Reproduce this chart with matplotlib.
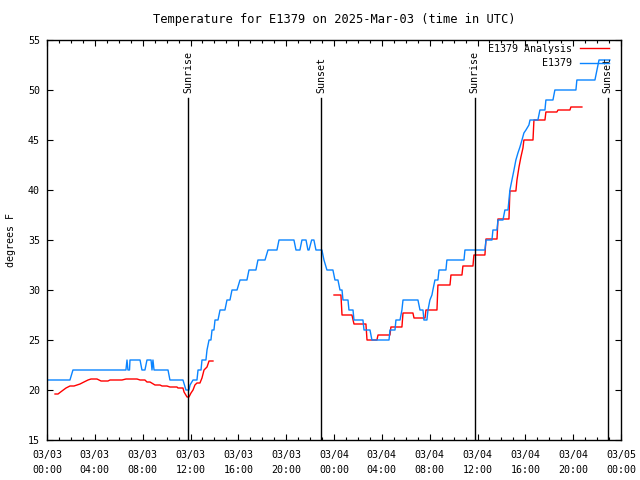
import datetime as dt
import matplotlib
matplotlib.use('Agg')
import matplotlib.pyplot as plt
import matplotlib.dates as mdates
import numpy as np

# Hours since 2025-03-03 00:00 UTC
station_hours = [
    0.0, 1.92, 2.17, 6.6, 6.69, 6.77, 6.9, 6.94, 7.78, 7.94, 8.19, 8.36, 8.7,
    8.78, 8.86, 8.95, 10.12, 10.28, 11.37, 11.62, 11.87, 11.96, 12.21, 12.54,
    12.63, 12.88, 12.96, 13.29, 13.38, 13.55, 13.71, 13.8, 13.96, 14.05, 14.3,
    14.47, 14.88, 15.05, 15.3, 15.47, 15.89, 16.14, 16.72, 16.89, 17.47, 17.64,
    18.23, 18.48, 19.23, 19.4, 20.65, 20.82, 21.15, 21.32, 21.66, 21.82, 21.91,
    22.13, 22.32, 22.49, 22.9, 22.99, 23.16, 23.41, 23.91, 24.08, 24.33, 24.5,
    24.67, 24.75, 25.17, 25.25, 25.59, 25.67, 26.42, 26.51, 27.01, 27.17, 28.6,
    28.68, 29.1, 29.18, 29.52, 29.68, 29.77, 31.02, 31.19, 31.44, 31.52, 31.77,
    31.86, 32.02, 32.19, 32.27, 32.44, 32.69, 32.78, 33.36, 33.44, 34.87, 34.95,
    36.62, 36.71, 37.21, 37.29, 37.63, 37.71, 38.13, 38.29, 38.55, 38.63, 38.71,
    38.88, 39.05, 39.21, 39.38, 39.55, 39.72, 39.88, 40.05, 40.3, 40.39, 41.05,
    41.22, 41.64, 41.72, 42.31, 42.47, 44.23, 44.31, 45.82, 45.99, 46.16, 47.07,
]
station_temp = [
    21, 21, 22, 22, 23, 22, 22, 23, 23, 22, 22, 23, 23,
    22, 23, 22, 22, 21, 21, 20, 20, 20.5, 21, 21,
    22, 22, 23, 23, 24, 25, 25, 26, 26, 27, 27,
    28, 28, 29, 29, 30, 30, 31, 31, 32, 32, 33,
    33, 34, 34, 35, 35, 34, 34, 35, 35, 34, 34,
    35, 35, 34, 34, 34, 33, 32, 32, 31, 31, 30,
    30, 29, 29, 28, 28, 27, 27, 26, 26, 25, 25,
    26, 26, 27, 27, 28, 29, 29, 28, 28, 27, 27,
    28, 29, 29.5, 30, 31, 31, 32, 32, 33, 33, 34,
    34, 35, 35, 36, 36, 37, 37, 38, 38, 39, 40,
    41, 42, 43, 43.7, 44.3, 45, 45.7, 46, 46.5, 47, 47,
    48, 48, 49, 49, 50, 50, 51, 51, 52, 53, 53,
]

analysis_hours = [
    0.67, 0.92, 1.25, 1.59, 1.92, 2.26, 2.51, 2.76, 3.09, 3.43, 3.68, 4.18,
    4.52, 5.1, 5.27, 6.27, 6.61, 7.53, 7.78, 8.19, 8.36, 8.61, 9.03, 9.45,
    9.62, 10.03, 10.28, 10.87, 10.95, 11.37, 11.46, 11.71, 11.87, 12.04, 12.21,
    12.37, 12.54, 12.79, 12.96, 13.13, 13.38, 13.55, 13.88,
    18.0,
    24.0, 24.58, 24.67, 25.5, 25.67, 26.67, 26.76, 27.59, 27.68, 28.68, 28.76,
    29.68, 29.77, 30.6, 30.69, 31.61, 31.69, 32.61, 32.69, 33.7, 33.78, 34.7,
    34.78, 35.62, 35.7, 36.62, 36.71, 37.63, 37.71, 38.63, 38.71, 39.21, 39.3,
    39.47, 39.63, 39.8, 39.88, 40.64, 40.72, 41.64, 41.72, 42.64, 42.73, 43.73,
    43.81, 44.73,
]
analysis_temp = [
    19.6, 19.6, 19.9, 20.2, 20.4, 20.4, 20.5, 20.6, 20.8, 21.0, 21.1, 21.1,
    20.9, 20.9, 21.0, 21.0, 21.1, 21.1, 21.0, 21.0, 20.8, 20.8, 20.5, 20.5,
    20.4, 20.4, 20.3, 20.3, 20.2, 20.2, 19.8, 19.3, 19.3, 19.7, 20.0,
    20.5, 20.7, 20.7, 21.2, 22.0, 22.3, 22.9, 22.9,
    np.nan,
    29.5, 29.5, 27.5, 27.5, 26.6, 26.6, 25.0, 25.0, 25.5, 25.5, 26.3,
    26.3, 27.7, 27.7, 27.2, 27.2, 28.0, 28.0, 30.5, 30.5, 31.5, 31.5,
    32.4, 32.4, 33.5, 33.5, 35.1, 35.1, 37.1, 37.1, 39.9, 39.9, 41.0,
    42.3, 43.3, 44.2, 45.0, 45.0, 47.0, 47.0, 47.8, 47.8, 48.0, 48.0,
    48.3, 48.3,
]

sun_hours = [11.79, 22.93, 35.76, 46.9]
sun_labels = ['Sunrise', 'Sunset', 'Sunrise', 'Sunset']

START = dt.datetime(2025, 3, 3, 0, 0)
FONT = 'DejaVu Sans Mono'


def to_dates(hours):
    return [START + dt.timedelta(hours=h) for h in hours]


def main():
    plt.rcParams['font.family'] = FONT
    plt.rcParams['font.size'] = 7.2

    fig = plt.figure(figsize=(6.4, 4.8), dpi=100)
    ax = fig.add_axes([47 / 640, 40 / 480, 574 / 640, 400 / 480])

    ax.plot(to_dates(analysis_hours), analysis_temp, color='#ff0000',
            lw=1.0, label='E1379 Analysis')
    ax.plot(to_dates(station_hours), station_temp, color='#0a84ff',
            lw=1.0, label='E1379')

    # sunrise / sunset markers
    for h, lab in zip(sun_hours, sun_labels):
        t = START + dt.timedelta(hours=h)
        ax.plot([t, t], [15, 49.2], color='black', lw=1.0)
        ax.text(t, 49.7, lab, rotation=90, ha='center', va='bottom')

    ax.set_xlim(START, START + dt.timedelta(hours=48))
    ax.set_ylim(15, 55)
    ax.set_yticks(np.arange(15, 56, 5))

    ax.xaxis.set_major_locator(mdates.HourLocator(byhour=[0, 4, 8, 12, 16, 20]))
    ax.xaxis.set_minor_locator(mdates.HourLocator())
    ax.xaxis.set_major_formatter(mdates.DateFormatter('%m/%d\n%H:%M'))
    for lbl in ax.get_xticklabels():
        lbl.set_linespacing(1.6)

    ax.tick_params(which='both', direction='in', top=True, right=True,
                   labelsize=7.2, colors='black')
    ax.tick_params(which='major', length=4, width=0.8)
    ax.tick_params(which='minor', length=2.5, width=0.8)
    ax.tick_params(axis='x', pad=7)
    ax.tick_params(axis='y', pad=5)
    for s in ax.spines.values():
        s.set_linewidth(1.0)

    ax.set_title('Temperature for E1379 on 2025-Mar-03 (time in UTC)', pad=12)
    ax.set_ylabel('degrees F')
    ax.yaxis.set_label_coords(-31 / 574, 0.5)

    ax.legend(loc='upper right', frameon=False, markerfirst=False,
              handlelength=2.9, handletextpad=0.8, labelspacing=0.45,
              borderaxespad=0.3, bbox_to_anchor=(1 - 5 / 574, 1 + 3 / 400))

    plt.savefig('out.png', dpi=100)
    plt.close()


if __name__ == "__main__":
    main()
